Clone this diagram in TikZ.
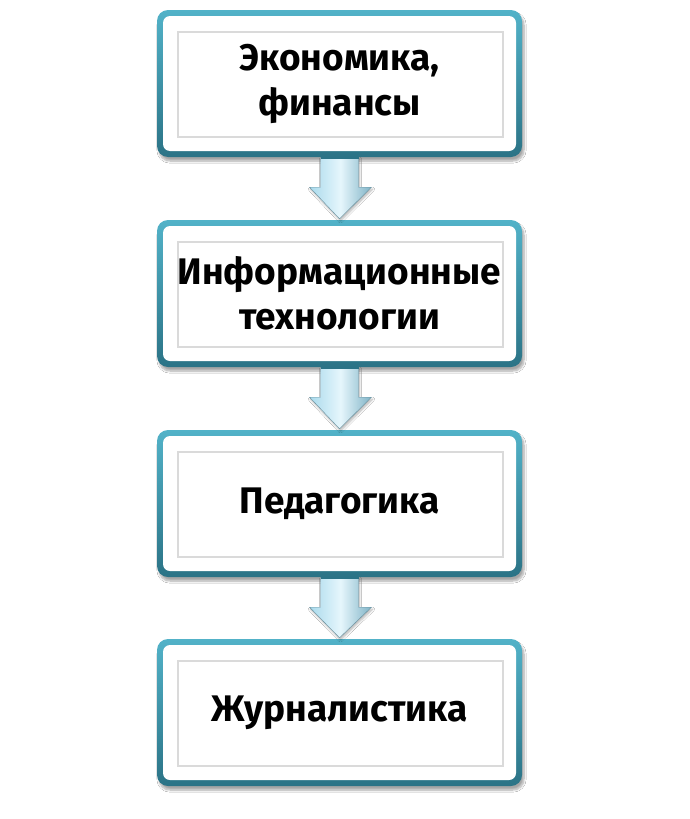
\documentclass[tikz,border=0pt]{standalone}
\usepackage{fontspec}
\setmainfont{Fira Sans}
\usetikzlibrary{calc,shadows.blur}
\definecolor{tealtop}{HTML}{52B2C8}
\definecolor{tealbot}{HTML}{2B7386}
\definecolor{innerline}{HTML}{DADADA}
\definecolor{arrL}{HTML}{A9DAEC}
\definecolor{arrM}{HTML}{E6F6FC}
\definecolor{arrR}{HTML}{7FB3C6}
\tikzset{
  stagebox/.style={
    rounded corners=11pt, top color=tealtop, bottom color=tealbot,
    minimum width=365pt, minimum height=147pt, inner sep=0pt,
    align=center, font=\bfseries\fontsize{37}{45}\selectfont,
    blur shadow={shadow xshift=2pt, shadow yshift=-4pt, shadow blur steps=8, shadow opacity=35},
    path picture={
      \fill[white, rounded corners=7pt]
        ([xshift=6pt,yshift=-6pt]path picture bounding box.north west) rectangle
        ([xshift=-6pt,yshift=6pt]path picture bounding box.south east);
      \draw[innerline, line width=1.2pt, sharp corners]
        ([xshift=21pt,yshift=-22pt]path picture bounding box.north west) rectangle
        ([xshift=-19pt,yshift=20pt]path picture bounding box.south east);
    }
  },
  flowarrow/.style={left color=arrL, right color=arrR, middle color=arrM,
    draw=arrR!80!black, line width=0.4pt,
    blur shadow={shadow xshift=1pt, shadow yshift=-2pt, shadow blur steps=6, shadow opacity=30}}
}
\newcommand{\flowarr}[2]{%
  \path[flowarrow]
    ($(#1.south)+(-19,0)$) -- ($(#1.south)+(19,0)$) --
    ($(#1.south)+(19,30)$) -- ($(#1.south)+(32,30)$) --
    ($(#2.north)+(0,-1)$) --
    ($(#1.south)+(-30,30)$) -- ($(#1.south)+(-19,30)$) -- cycle;
  \draw[tealbot, line width=2pt] ($(#1.south)+(-19,1)$) -- ($(#1.south)+(19,1)$);
}
\begin{document}
\begin{tikzpicture}[x=1pt,y=-1pt]
\useasboundingbox[fill=white] (0,0) rectangle (689,819);
\node[stagebox] (b1) at (339.5,83.5) {Экономика,\\финансы};
\node[stagebox] (b2) at (339.5,293.5) {Информационные\\технологии};
\node[stagebox] (b3) at (339.5,503.5) {Педагогика};
\node[stagebox] (b4) at (339.5,712.5) {Журналистика};
\flowarr{b1}{b2}
\flowarr{b2}{b3}
\flowarr{b3}{b4}
\end{tikzpicture}
\end{document}
